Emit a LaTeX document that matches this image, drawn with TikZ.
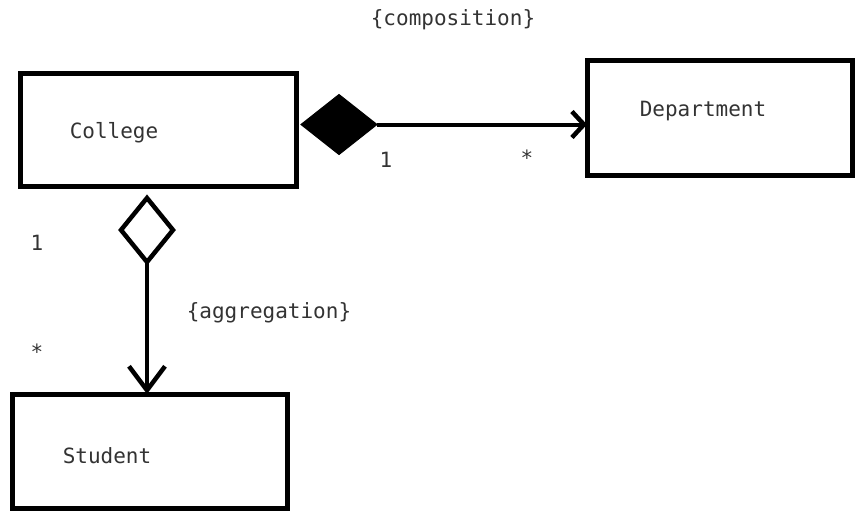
\documentclass[tikz,border=0pt]{standalone}
\usepackage{fontspec}
\setmonofont{DejaVu Sans Mono}
\usetikzlibrary{shapes.geometric,arrows.meta}
\begin{document}
\begin{tikzpicture}[x=1pt,y=-1pt,
  classbox/.style={draw=black,line width=5pt,minimum width=#1,inner sep=0pt,outer sep=0pt},
  classbox/.default=270pt,
  lbl/.style={font=\ttfamily\fontsize{21}{24}\selectfont,text=black!80,inner sep=0pt},
  conn/.style={draw=black,line width=4pt},
  compdiamond/.style={diamond,fill=black,draw=black,line width=1pt,minimum width=76pt,minimum height=60pt,inner sep=0pt,outer sep=0pt},
  aggdiamond/.style={diamond,fill=white,draw=black,line width=4.5pt,minimum width=52pt,minimum height=64pt,inner sep=0pt,outer sep=0pt}]
  \useasboundingbox (0,0) rectangle (856,512);
  \fill[white] (0,0) rectangle (856,512);

  % classes
  \node[classbox=276pt,minimum height=113pt] (college) at (158,129.5) {};
  \node[classbox=265pt,minimum height=115pt] (dept) at (719.5,117.5) {};
  \node[classbox=275pt,minimum height=114pt] (student) at (149.5,451) {};
  \node[lbl] (collegetxt) at (114,133) {College};
  \node[lbl] (depttxt) at (703,111) {Department};
  \node[lbl] (studenttxt) at (107,456) {Student};

  % composition: College owns Department
  \node[compdiamond] (cd) at (339,124.5) {};
  \draw[conn,-{Straight Barb[length=12pt,width=26pt,line width=4.5pt]}] (cd.east) -- (cd.east -| dept.west);
  \node[lbl] (comp) at (453,20) {\{composition\}};
  \node[lbl] (m1) at (386,160) {1};
  \node[lbl] (m2) at (527,158) {*};

  % aggregation: College aggregates Student
  \node[aggdiamond] (ad) at (147,230) {};
  \draw[conn,-{Straight Barb[length=24pt,width=36pt,line width=4.5pt]}] (ad.south) -- (ad.south |- student.north);
  \node[lbl] (agg) at (269,313) {\{aggregation\}};
  \node[lbl] (m3) at (37,243) {1};
  \node[lbl] (m4) at (37,352) {*};
\end{tikzpicture}
\end{document}
